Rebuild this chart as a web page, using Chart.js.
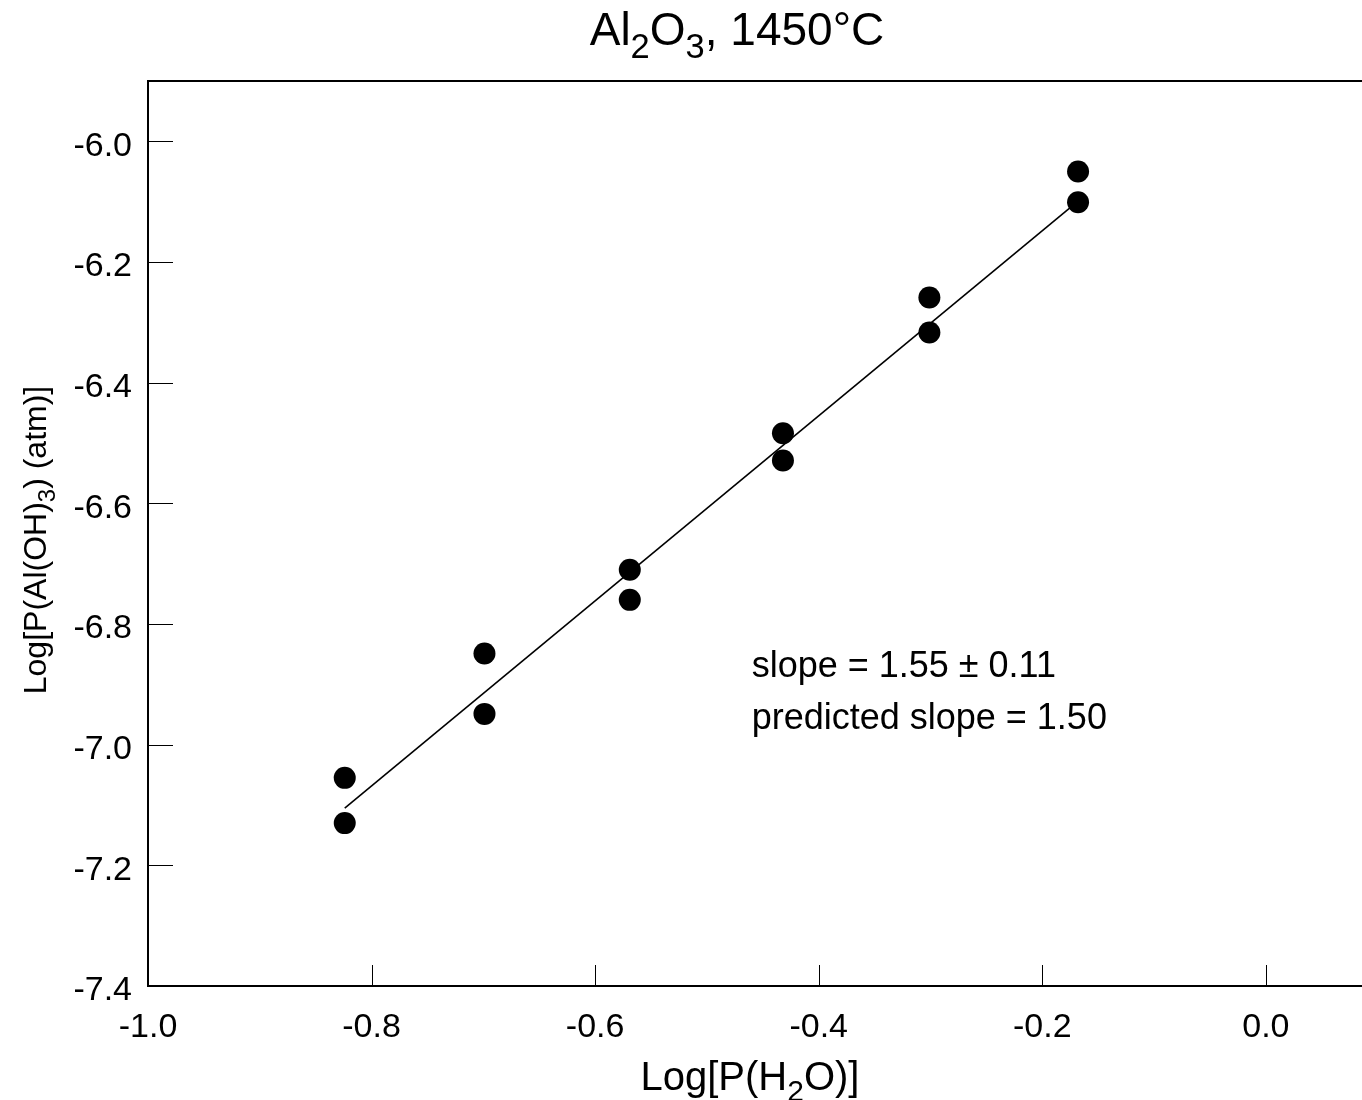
<!DOCTYPE html>
<html>
<head>
<meta charset="utf-8">
<script src="https://cdn.jsdelivr.net/npm/chart.js@4/dist/chart.umd.min.js"></script>
<style>
  body { margin: 0; background: #fff; }
  canvas { display: block; }
</style>
</head>
<body>
<canvas id="chart" width="1362" height="1100"></canvas>
<script>
// measured points: log P(H2O) vs log P(Al(OH)3), two runs per water pressure
const waterLog = [-0.824, -0.824, -0.699, -0.699, -0.569, -0.569, -0.432, -0.432, -0.301, -0.301, -0.168, -0.168];
const hydroxideLog = [-7.055, -7.130, -6.849, -6.949, -6.710, -6.760, -6.484, -6.529, -6.259, -6.317, -6.050, -6.101];

// fitted line end points
const fitX = [-0.824, -0.168];
const fitY = [-7.105, -6.099];

const xTickValues = [-1.0, -0.8, -0.6, -0.4, -0.2, 0.0];
const yTickValues = [-7.4, -7.2, -7.0, -6.8, -6.6, -6.4, -6.2, -6.0];

const noteLines = ["slope = 1.55 \u00b1 0.11", "predicted slope = 1.50"];

const FONT = "'Liberation Sans', Arial, sans-serif";

// draws a string made of parts, some of them subscripts
function richWidth(ctx, parts, size) {
    let w = 0;
    for (const p of parts) {
        ctx.font = (p.sub ? size * 0.75 : size) + "px " + FONT;
        w += ctx.measureText(p.t).width;
    }
    return w;
}

function drawRich(ctx, parts, x, y, size) {
    const w = richWidth(ctx, parts, size);
    let cx = x - w / 2;
    ctx.textAlign = "left";
    ctx.textBaseline = "alphabetic";
    for (const p of parts) {
        ctx.font = (p.sub ? size * 0.75 : size) + "px " + FONT;
        ctx.fillText(p.t, cx, p.sub ? y + size * 0.28 : y);
        cx += ctx.measureText(p.t).width;
    }
}

const decorations = {
    id: "decorations",
    afterDraw(chart) {
        const ctx = chart.ctx;
        const area = chart.chartArea;
        const xs = chart.scales.x;
        const ys = chart.scales.y;
        ctx.save();
        ctx.fillStyle = "#000";
        ctx.strokeStyle = "#000";

        // top edge of the frame (right edge runs off the page)
        ctx.lineWidth = 2;
        ctx.beginPath();
        ctx.moveTo(area.left - 1, area.top);
        ctx.lineTo(area.right, area.top);
        ctx.stroke();

        // inward tick marks
        ctx.lineWidth = 1;
        ctx.beginPath();
        for (const v of xTickValues) {
            if (v === xTickValues[0]) continue;
            const px = Math.round(xs.getPixelForValue(v)) + 0.5;
            ctx.moveTo(px, area.bottom);
            ctx.lineTo(px, area.bottom - 21);
        }
        for (const v of yTickValues) {
            if (v === yTickValues[0]) continue;
            const py = Math.round(ys.getPixelForValue(v)) + 0.5;
            ctx.moveTo(area.left, py);
            ctx.lineTo(area.left + 25, py);
        }
        ctx.stroke();

        // title
        drawRich(ctx, [{t: "Al"}, {t: "2", sub: true}, {t: "O"}, {t: "3", sub: true}, {t: ", 1450\u00b0C"}], 737, 45, 46);

        // x axis title
        drawRich(ctx, [{t: "Log[P(H"}, {t: "2", sub: true}, {t: "O)]"}], 750, 1090, 40);

        // y axis title
        ctx.save();
        ctx.translate(46, 540);
        ctx.rotate(-Math.PI / 2);
        drawRich(ctx, [{t: "Log[P(Al(OH)"}, {t: "3", sub: true}, {t: ") (atm)]"}], 0, 0, 32);
        ctx.restore();

        // slope note
        ctx.font = "36px " + FONT;
        ctx.textAlign = "left";
        ctx.textBaseline = "alphabetic";
        const nx = xs.getPixelForValue(-0.46);
        ctx.fillText(noteLines[0], nx, ys.getPixelForValue(-6.888));
        ctx.fillText(noteLines[1], nx, ys.getPixelForValue(-6.974));

        ctx.restore();
    }
};

const tickFont = { family: FONT, size: 34 };

new Chart(document.getElementById("chart"), {
    type: "scatter",
    data: {
        datasets: [
            {
                data: waterLog.map((x, i) => ({ x: x, y: hydroxideLog[i] })),
                backgroundColor: "#000",
                borderWidth: 0,
                pointRadius: 11
            },
            {
                type: "line",
                data: fitX.map((x, i) => ({ x: x, y: fitY[i] })),
                borderColor: "#000",
                borderWidth: 1.6,
                pointRadius: 0,
                fill: false
            }
        ]
    },
    plugins: [decorations],
    options: {
        responsive: false,
        animation: false,
        layout: { autoPadding: false, padding: { top: 81, right: 0, bottom: 0, left: 0 } },
        plugins: {
            legend: { display: false },
            tooltip: { enabled: false },
            title: { display: false }
        },
        scales: {
            x: {
                type: "linear",
                min: -1.0,
                max: 0.086,
                afterFit: s => { s.height = 114; s.paddingLeft = 0; s.paddingRight = 0; },
                afterBuildTicks: s => { s.ticks = xTickValues.map(v => ({ value: v })); },
                grid: { display: false, drawTicks: false },
                border: { display: true, color: "#000", width: 2 },
                ticks: {
                    font: tickFont,
                    color: "#000",
                    padding: 21,
                    maxRotation: 0,
                    autoSkip: false,
                    callback: v => v.toFixed(1)
                }
            },
            y: {
                type: "linear",
                min: -7.4,
                max: -5.9,
                afterFit: s => { s.width = 148; s.paddingTop = 0; s.paddingBottom = 0; },
                afterBuildTicks: s => { s.ticks = yTickValues.map(v => ({ value: v })); },
                grid: { display: false, drawTicks: false },
                border: { display: true, color: "#000", width: 2 },
                ticks: {
                    font: tickFont,
                    color: "#000",
                    padding: 16,
                    labelOffset: 5,
                    autoSkip: false,
                    callback: v => v.toFixed(1)
                }
            }
        }
    }
});
</script>
</body>
</html>
